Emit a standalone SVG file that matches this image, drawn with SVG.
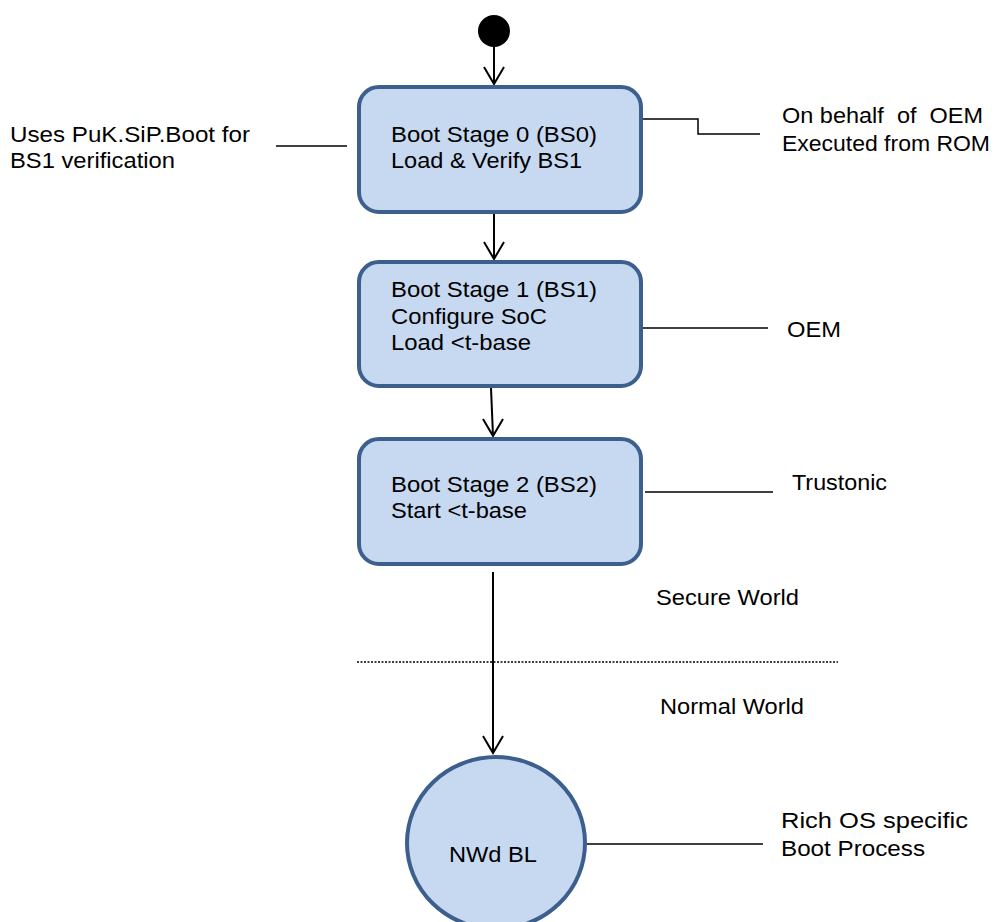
<svg xmlns="http://www.w3.org/2000/svg" width="999" height="922" viewBox="0 0 999 922">
<style>
.node{fill:#C6D9F1;stroke:#3C5F8E;stroke-width:4}
.t{font-family:"Liberation Sans",Arial,sans-serif;font-size:22px;fill:#000;white-space:pre}
.c{fill:none;stroke:#000;stroke-width:2}
.n{fill:none;stroke:#000;stroke-width:1.5}
</style>
<rect width="999" height="922" fill="#fff"/>
<g id="connectors">
<path class="c" d="M494 47 L494 84 M484 67 L494 84 L504 67"/>
<path class="c" d="M494 213 L494 259 M484 242 L494 259 L504 242"/>
<path class="c" d="M491 388 L493 436 M483 419 L493 436 L503 419"/>
<path class="c" d="M493 572 L493 753 M483 736 L493 753 L503 736"/>
<path class="n" d="M642 119 L698 119 L698 134 L760 134"/>
<line class="n" x1="276" y1="146" x2="347" y2="146"/>
<line class="n" x1="642" y1="328" x2="768" y2="328"/>
<line class="n" x1="645" y1="492" x2="773" y2="492"/>
<line class="n" x1="587" y1="844" x2="763" y2="844"/>
<line x1="357" y1="662" x2="838" y2="662" stroke="#000" stroke-width="1.5" stroke-dasharray="2,1.5"/>
</g>
<g id="start"><circle cx="494" cy="31" r="16" fill="#000"/></g>
<g id="bs0">
<rect class="node" x="359" y="87" width="282" height="125" rx="20"/>
<text class="t" x="391" y="142" textLength="206" lengthAdjust="spacingAndGlyphs">Boot Stage 0 (BS0)</text>
<text class="t" x="391" y="168" textLength="191" lengthAdjust="spacingAndGlyphs">Load &amp; Verify BS1</text>
</g>
<g id="bs1">
<rect class="node" x="359" y="262" width="282" height="124" rx="20"/>
<text class="t" x="391" y="297" textLength="206" lengthAdjust="spacingAndGlyphs">Boot Stage 1 (BS1)</text>
<text class="t" x="391" y="324" textLength="156" lengthAdjust="spacingAndGlyphs">Configure SoC</text>
<text class="t" x="391" y="350" textLength="140" lengthAdjust="spacingAndGlyphs">Load &lt;t-base</text>
</g>
<g id="bs2">
<rect class="node" x="359" y="439" width="282" height="125" rx="20"/>
<text class="t" x="391" y="492" textLength="206" lengthAdjust="spacingAndGlyphs">Boot Stage 2 (BS2)</text>
<text class="t" x="391" y="518" textLength="136" lengthAdjust="spacingAndGlyphs">Start &lt;t-base</text>
</g>
<g id="nwd">
<ellipse class="node" cx="496" cy="843" rx="89" ry="86"/>
<text class="t" x="449" y="862" textLength="88" lengthAdjust="spacingAndGlyphs">NWd BL</text>
</g>
<g id="labels">
<text class="t" x="10" y="142" textLength="240" lengthAdjust="spacingAndGlyphs">Uses PuK.SiP.Boot for</text>
<text class="t" x="10" y="168" textLength="165" lengthAdjust="spacingAndGlyphs">BS1 verification</text>
<text class="t" x="782" y="123" textLength="201" lengthAdjust="spacingAndGlyphs" xml:space="preserve">On behalf  of  OEM</text>
<text class="t" x="782" y="151" textLength="208" lengthAdjust="spacingAndGlyphs">Executed from ROM</text>
<text class="t" x="787" y="337" textLength="54" lengthAdjust="spacingAndGlyphs">OEM</text>
<text class="t" x="792" y="490" textLength="95" lengthAdjust="spacingAndGlyphs">Trustonic</text>
<text class="t" x="656" y="605" textLength="143" lengthAdjust="spacingAndGlyphs">Secure World</text>
<text class="t" x="660" y="714" textLength="144" lengthAdjust="spacingAndGlyphs">Normal World</text>
<text class="t" x="781" y="828" textLength="187" lengthAdjust="spacingAndGlyphs">Rich OS specific</text>
<text class="t" x="781" y="856" textLength="144" lengthAdjust="spacingAndGlyphs">Boot Process</text>
</g>
</svg>
